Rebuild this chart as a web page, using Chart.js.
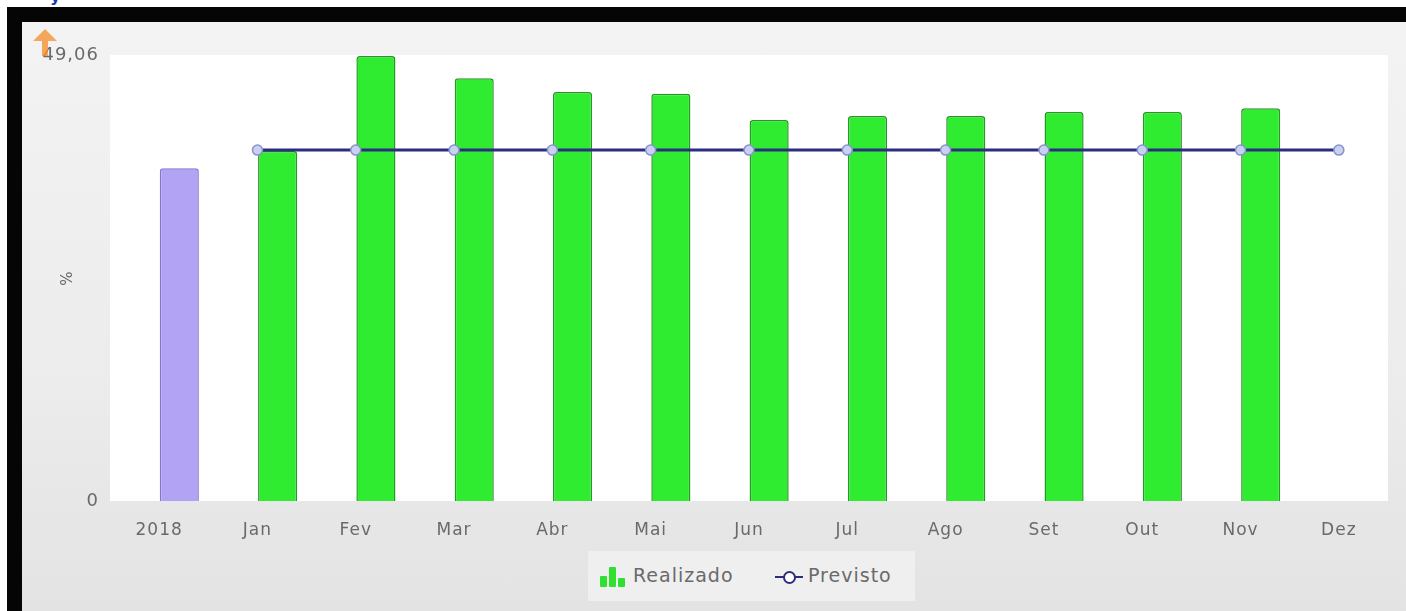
<!DOCTYPE html>
<html>
<head>
<meta charset="utf-8">
<script src="https://cdn.jsdelivr.net/npm/chart.js@4/dist/chart.umd.min.js"></script>
<style>
  html, body { margin: 0; padding: 0; background: #fff; overflow: hidden; }
  #wrap { position: relative; width: 1406px; height: 611px; }
  #titulo { position: absolute; left: 50px; top: -13px; color: #1a3ca8; font: bold 16px "DejaVu Sans", sans-serif; }
  #moldura { position: absolute; left: 7px; top: 7px; width: 1399px; height: 604px; background: #050505; }
  #fundo { position: absolute; left: 22px; top: 22px; width: 1384px; height: 589px;
           background: linear-gradient(#f3f3f3, #ececec 60%, #e3e3e3); }
  #grafico { position: absolute; left: 0; top: 0; }
  #legenda { position: absolute; left: 588px; top: 551px; width: 327px; height: 50px; background: #efefef;
             font: 19px "DejaVu Sans", sans-serif; color: #6a6a6a; letter-spacing: 1px; }
  .txt { position: absolute; top: 13px; }
  .barras { position: absolute; left: 12px; top: 14px; width: 26px; height: 22px; }
  .barras span { position: absolute; bottom: 0; width: 7px; background: #2fe02f; border-radius: 1px; }
  .linha { position: absolute; left: 187px; top: 19px; width: 28px; height: 14px; }
  .linha::before { content: ""; position: absolute; left: 0; right: 0; top: 6px; height: 2px; background: #2c2c80; }
  .linha::after { content: ""; position: absolute; left: 8px; top: 1px; width: 9px; height: 9px; border-radius: 50%;
                  background: #fff; border: 2px solid #2c2c80; }
</style>
</head>
<body>
<div id="wrap">
  <div id="titulo">y</div>
  <div id="moldura"></div>
  <div id="fundo"></div>
  <canvas id="grafico" width="1406" height="611"></canvas>
  <div id="legenda">
    <div class="barras"><span style="left:0;height:11px"></span><span style="left:9px;height:20px"></span><span style="left:18px;height:9px"></span></div>
    <span class="txt" style="left:45px">Realizado</span>
    <div class="linha"></div>
    <span class="txt" style="left:220px">Previsto</span>
  </div>
</div>
<script>
const categorias = ['2018', 'Jan', 'Fev', 'Mar', 'Abr', 'Mai', 'Jun', 'Jul', 'Ago', 'Set', 'Out', 'Nov', 'Dez'];
const realizado = [36.6, 38.5, 48.95, 46.5, 45.0, 44.8, 41.9, 42.35, 42.35, 42.8, 42.8, 43.2, null];
const previsto = [null, 38.6, 38.6, 38.6, 38.6, 38.6, 38.6, 38.6, 38.6, 38.6, 38.6, 38.6, 38.6];
const ticksY = [0, 49.06];
const maxY = 49.06;

const corRealizado = categorias.map((c, i) => i === 0 ? '#b3a3f5' : '#30ec30');
const bordaRealizado = categorias.map((c, i) => i === 0 ? '#8573d6' : '#249a24');

// fundo branco da area do grafico e seta laranja
const fundoPlugin = {
    id: 'fundoArea',
    beforeDraw(chart) {
        const { ctx, chartArea: a } = chart;
        ctx.save();
        ctx.fillStyle = '#ffffff';
        ctx.fillRect(a.left, a.top, a.right - a.left, a.bottom - a.top);
        ctx.restore();
        ctx.letterSpacing = '1px';
    },
    afterDraw(chart) {
        const ctx = chart.ctx;
        ctx.save();
        ctx.fillStyle = 'rgba(245,140,40,0.75)';
        ctx.beginPath();
        ctx.moveTo(45, 29);
        ctx.lineTo(57, 41);
        ctx.lineTo(48, 41);
        ctx.lineTo(48, 56);
        ctx.lineTo(42, 56);
        ctx.lineTo(42, 41);
        ctx.lineTo(33, 41);
        ctx.closePath();
        ctx.fill();
        ctx.restore();
    }
};

new Chart(document.getElementById('grafico').getContext('2d'), {
    type: 'bar',
    data: {
        labels: categorias,
        datasets: [
            {
                label: '',
                data: categorias.map(() => null),
                order: 2
            },
            {
                label: 'Realizado',
                data: realizado,
                backgroundColor: corRealizado,
                borderColor: bordaRealizado,
                borderWidth: 1.5,
                borderSkipped: 'bottom',
                borderRadius: { topLeft: 3, topRight: 3 },
                categoryPercentage: 0.82,
                barPercentage: 0.97,
                order: 2
            },
            {
                type: 'line',
                label: 'Previsto',
                data: previsto,
                borderColor: '#2c2c80',
                borderWidth: 3,
                pointRadius: 5,
                pointBackgroundColor: '#c9d1f2',
                pointBorderColor: '#8a93c9',
                pointBorderWidth: 1.5,
                order: 1
            }
        ]
    },
    options: {
        responsive: false,
        animation: false,
        layout: { padding: { top: 55, left: 28, right: 18, bottom: 70 } },
        plugins: { legend: { display: false }, tooltip: { enabled: false } },
        scales: {
            x: {
                offset: true,
                grid: { display: false },
                border: { display: false },
                ticks: { color: '#6a6a6a', font: { family: 'DejaVu Sans', size: 17 }, padding: 11 },
                afterFit(scale) { scale.height = 40; }
            },
            y: {
                min: 0,
                max: maxY,
                grid: { display: false },
                border: { display: false },
                afterBuildTicks(scale) { scale.ticks = ticksY.map(v => ({ value: v })); },
                afterFit(scale) { scale.width = 82; },
                ticks: {
                    color: '#6a6a6a',
                    font: { family: 'DejaVu Sans', size: 18 },
                    padding: 3,
                    callback: v => v === 0 ? '0' : v.toFixed(2).replace('.', ',')
                },
                title: {
                    display: true,
                    text: '%',
                    color: '#6a6a6a',
                    font: { family: 'DejaVu Sans', size: 15 },
                    padding: { top: 31, bottom: 0 }
                }
            }
        }
    },
    plugins: [fundoPlugin]
});
</script>
</body>
</html>
